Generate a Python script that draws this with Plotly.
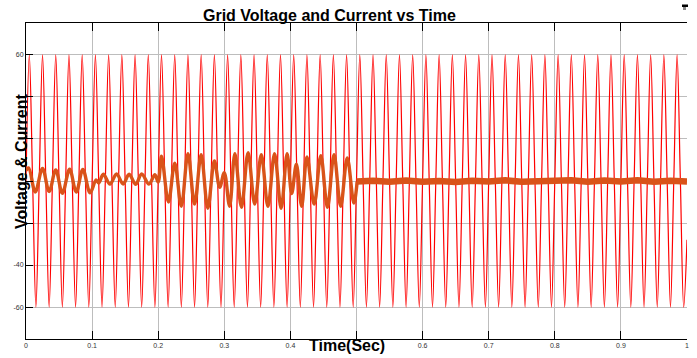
import plotly.graph_objects as go

# ---------------- data ----------------
GRID_FREQ_HZ = 50

# Grid voltage: positive peak and negative trough of each 20 ms cycle
voltage_peaks = [60] * 50
voltage_troughs = [-60] * 50
voltage_end_value = -28          # where the trace is cut at t = 1 s

# Current turning points before the controller settles (time s, value)
current_t = [0.000, 0.004, 0.014, 0.025, 0.035, 0.045, 0.055, 0.066, 0.076, 0.086, 0.097,
             0.106, 0.110, 0.117, 0.127, 0.137, 0.147, 0.156, 0.166, 0.175, 0.186, 0.195, 0.200,
             0.205, 0.2155, 0.225, 0.235, 0.245, 0.255, 0.265, 0.275, 0.285, 0.293, 0.300,
             0.308, 0.316, 0.326, 0.336, 0.346, 0.356, 0.366, 0.376, 0.386, 0.395, 0.402,
             0.409, 0.417, 0.425, 0.436, 0.446, 0.456, 0.466, 0.476, 0.486, 0.496, 0.501]
current_v = [5.0, 6.2, -5.2, 6.0, -5.0, 5.2, -5.8, 5.6, -5.2, 5.5, -5.6,
             0.5, -1.0, 3.2, -1.5, 3.3, -1.4, 3.2, -1.6, 3.4, -1.5, 3.0, -0.5,
             11.8, -10.0, 8.5, -12.0, 13.0, -11.0, 12.5, -13.0, 9.5, -3.0, 4.0,
             -12.0, 13.0, -12.5, 13.5, -11.0, 12.5, -12.0, 13.0, -13.0, 13.0, -6.0,
             8.0, -12.0, 11.5, -11.0, 12.0, -12.5, 12.5, -12.0, 11.0, -10.5, -0.3]

# Settled current after 0.5 s (sampled every 25 ms)
steady_t = [0.500, 0.525, 0.550, 0.575, 0.600, 0.625, 0.650, 0.675, 0.700, 0.725, 0.750,
            0.775, 0.800, 0.825, 0.850, 0.875, 0.900, 0.925, 0.950, 0.975, 1.000]
steady_v = [-0.2, 0.1, -0.4, 0.2, -0.3, 0.0, -0.5, 0.1, -0.2, 0.3, -0.4,
            0.0, -0.1, 0.4, -0.3, 0.2, -0.2, 0.3, -0.4, 0.1, -0.2]

x_range = [0, 1]
y_range = [-75.2, 75.2]

# tick positions and the labels visible in the reference
# (labels under the axis titles are hidden there)
x_tick_values = [0, 0.1, 0.2, 0.3, 0.4, 0.5, 0.6, 0.7, 0.8, 0.9, 1]
x_tick_labels = ["0", "0.1", "0.2", "0.3", "0.4", "", "0.6", "0.7", "0.8", "0.9", "1"]
y_tick_values = [-60, -40, -20, 0, 20, 40, 60]
y_tick_labels = ["-60", "-40", "", "", "", "", "60"]

title_text = "Grid Voltage and Current vs Time"
x_label = "Time(Sec)"
y_label = "Voltage & Current"

# ---------------- build voltage turning points ----------------
period = 1 / GRID_FREQ_HZ
volt_t, volt_v = [], []
for i, (pk, tr) in enumerate(zip(voltage_peaks, voltage_troughs)):
    t0 = i * period
    volt_t += [t0, t0 + period / 4, t0 + period / 2, t0 + 3 * period / 4]
    volt_v += [0, pk, 0, tr]
volt_t.append(x_range[1])
volt_v.append(voltage_end_value)

RED = "#FF0000"
ORANGE = "#D95319"
FONT = "Liberation Sans, Arial, sans-serif"

fig = go.Figure()
fig.add_trace(go.Scatter(x=volt_t, y=volt_v, mode="lines", name="Voltage",
                         line=dict(color=RED, width=1.2, shape="spline")))
fig.add_trace(go.Scatter(x=current_t, y=current_v, mode="lines", name="Current",
                         line=dict(color=ORANGE, width=3.4, shape="spline")))
fig.add_trace(go.Scatter(x=steady_t, y=steady_v, mode="lines", name="Current",
                         line=dict(color=ORANGE, width=6.5)))

W, H = 697, 358
ML, MR, MT, MB = 26, 8, 23, 19
pw, ph = W - ML - MR, H - MT - MB


def px(x):
    return (x - ML) / pw


def py(y):
    return (H - MB - y) / ph


tickfont = dict(family=FONT, size=7, color="#333333")
fig.update_layout(
    width=W, height=H,
    margin=dict(l=ML, r=MR, t=MT, b=MB, pad=0),
    paper_bgcolor="white", plot_bgcolor="white",
    showlegend=False,
    xaxis=dict(range=x_range, tickmode="array", tickvals=x_tick_values, ticktext=x_tick_labels,
               showgrid=True, gridcolor="#bdbdbd", gridwidth=1, zeroline=False,
               showline=True, linecolor="black", linewidth=1, mirror="ticks",
               ticks="inside", ticklen=8, tickcolor="black", tickwidth=1,
               tickfont=tickfont),
    yaxis=dict(range=y_range, tickmode="array", tickvals=y_tick_values, ticktext=y_tick_labels,
               showgrid=True, gridcolor="#bdbdbd", gridwidth=1, zeroline=False,
               showline=True, linecolor="black", linewidth=1,
               ticks="inside", ticklen=7, tickcolor="black", tickwidth=1,
               tickfont=tickfont),
    yaxis2=dict(range=y_range, overlaying="y", side="right", anchor="x",
                tickmode="array", tickvals=y_tick_values,
                showgrid=False, zeroline=False, showline=False,
                ticks="inside", ticklen=7, tickcolor="black", showticklabels=False),
)

# small figure-toolbar mark at top right
fig.add_shape(type="rect", xref="paper", yref="paper",
              x0=px(684), x1=px(690), y0=py(7), y1=py(4.5),
              fillcolor="black", line=dict(width=0), layer="above")
fig.add_shape(type="rect", xref="paper", yref="paper",
              x0=px(685), x1=px(688), y0=py(10), y1=py(7),
              fillcolor="#888888", line=dict(width=0), layer="above")

bold = dict(family=FONT, size=16, color="black", weight="bold")
fig.add_annotation(text=title_text, xref="paper", yref="paper",
                   x=px(330), y=py(15.5), xanchor="center", yanchor="middle",
                   showarrow=False, font=bold)
fig.add_annotation(text=x_label, xref="paper", yref="paper",
                   x=px(348), y=py(346), xanchor="center", yanchor="middle",
                   showarrow=False, font=bold)
fig.add_annotation(text=y_label, xref="paper", yref="paper", textangle=-90,
                   x=px(21), y=py(161), xanchor="center", yanchor="middle",
                   showarrow=False, font=bold)

fig.write_html("out.html")
